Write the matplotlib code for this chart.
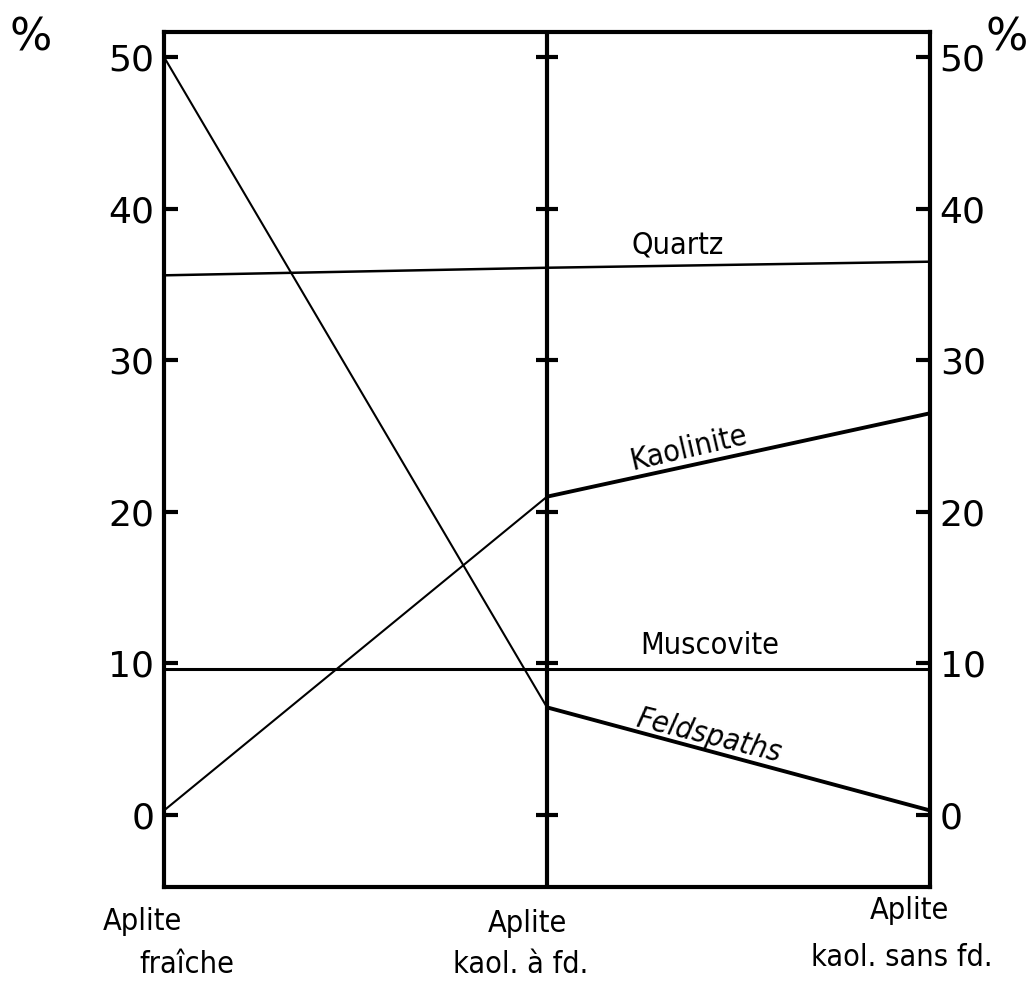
import matplotlib
matplotlib.use('Agg')
import matplotlib.pyplot as plt

# samples (x positions 0, 1, 2)
stages = [0, 1, 2]
stage_top = ['Aplite', 'Aplite', 'Aplite']
stage_bottom = ['fraîche', 'kaol. à fd.', 'kaol. sans fd.']

feldspaths = [50.0, 7.1, 0.3]
quartz = [35.6, 36.1, 36.5]
kaolinite = [0.3, 21.0, 26.5]
muscovite = [9.6, 9.6, 9.6]

yticks = [0, 10, 20, 30, 40, 50]

narrow = ['DejaVu Sans']
num_font = ['DejaVu Sans']
lab_kw = dict(family=narrow, fontsize=22, fontstretch='condensed', fontweight='medium')

fig = plt.figure(figsize=(10.33, 9.88), dpi=100)
ax = fig.add_axes([0.1588, 0.1022, 0.7415, 0.8654])

# mineral curves: first segment thinner than second in the original drawing
ax.plot(stages[:2], feldspaths[:2], color='k', lw=1.5, solid_capstyle='butt')
ax.plot(stages[1:], feldspaths[1:], color='k', lw=2.8, solid_capstyle='butt')
ax.plot(stages[:2], kaolinite[:2], color='k', lw=1.5, solid_capstyle='butt')
ax.plot(stages[1:], kaolinite[1:], color='k', lw=2.8, solid_capstyle='butt')
ax.plot(stages, quartz, color='k', lw=1.8)
ax.plot(stages, muscovite, color='k', lw=2.2)

# middle axis with crossing ticks
ax.axvline(1, color='k', lw=3)
ax.plot([1] * len(yticks), yticks, ls='none', marker='_', ms=16, mew=3, color='k')

ax.set_xlim(0, 2)
ax.set_ylim(-4.75, 51.65)
ax.set_yticks(yticks)
ax.set_xticks([])
ax.tick_params(axis='y', direction='in', length=10, width=3, left=True, right=True,
               labelleft=True, labelright=True, labelsize=26, pad=7)
for lab in ax.get_yticklabels():
    lab.set_family(num_font)
for s in ax.spines.values():
    s.set_linewidth(3)

# curve names
ax.text(1.34, 37.6, 'Quartz', ha='center', va='center', **lab_kw)
ax.text(1.37, 24.2, 'Kaolinite', ha='center', va='center', rotation=13, **lab_kw)
ax.text(1.425, 11.2, 'Muscovite', ha='center', va='center', **lab_kw)
ax.text(1.423, 5.2, 'Feldspaths', ha='center', va='center', rotation=-14,
        style='italic', **lab_kw)

# sample names below the axis
tr = ax.get_xaxis_transform()
top_x = [-0.055, 0.948, 1.946]
top_y = [-0.040, -0.043, -0.028]
bot_x = [0.06, 0.93, 1.927]
bot_y = [-0.091, -0.091, -0.083]
for i in range(3):
    ax.text(top_x[i], top_y[i], stage_top[i], transform=tr, ha='center', va='center',
            clip_on=False, **lab_kw)
    ax.text(bot_x[i], bot_y[i], stage_bottom[i], transform=tr, ha='center', va='center',
            clip_on=False, **lab_kw)

fig.text(0.030, 0.962, '%', family=num_font, fontsize=32, ha='center', va='center')
fig.text(0.975, 0.962, '%', family=num_font, fontsize=32, ha='center', va='center')

fig.savefig('out.png', dpi=100, facecolor='white')
